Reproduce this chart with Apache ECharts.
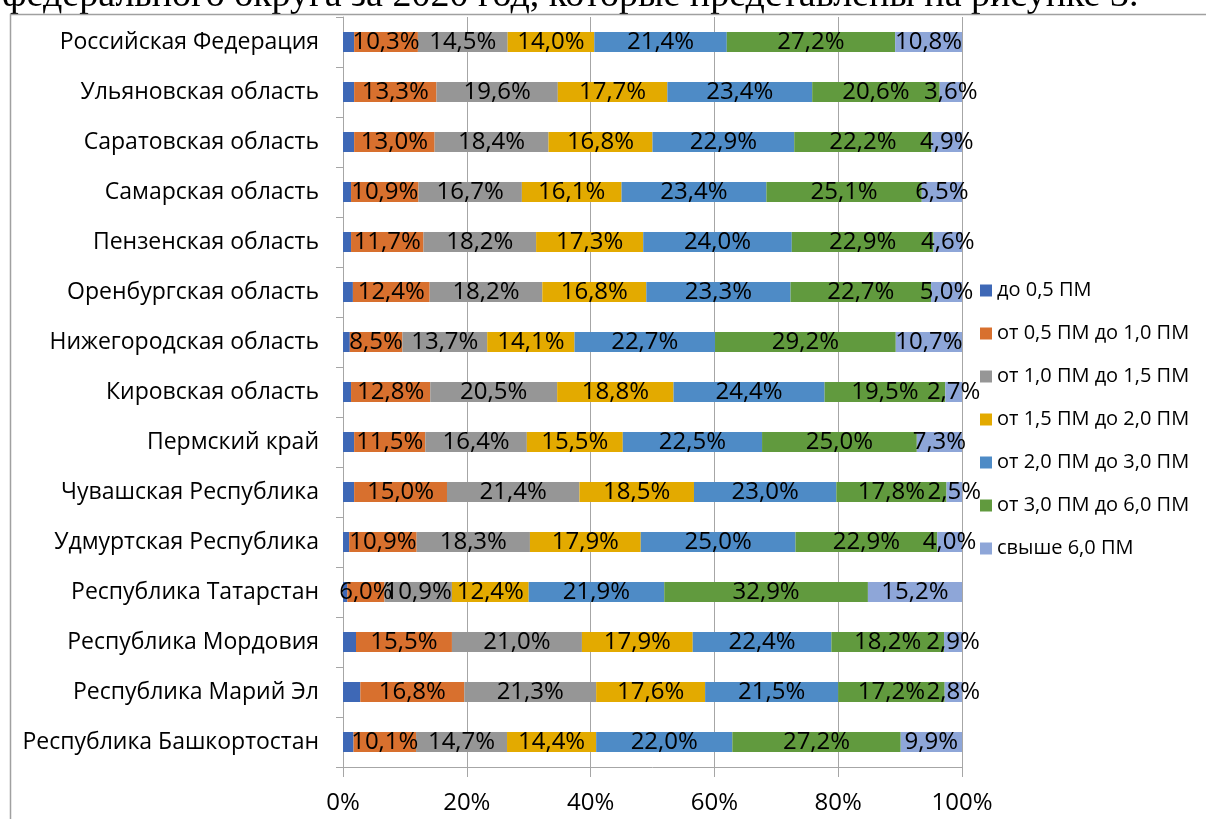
<!DOCTYPE html>
<html lang="ru">
<head>
    <meta charset="UTF-8">
    <title>Распределение населения по уровню дохода</title>
    <script src="https://cdn.jsdelivr.net/npm/echarts@6/dist/echarts.min.js"></script>
</head>
<body style="margin: 0; background: #fff;">
<div id="container" style="width: 1206px; height: 819px;"></div>
<script type="text/javascript">
    // регионы сверху вниз
    let regions = ['Российская Федерация', 'Ульяновская область', 'Саратовская область', 'Самарская область',
        'Пензенская область', 'Оренбургская область', 'Нижегородская область', 'Кировская область',
        'Пермский край', 'Чувашская Республика', 'Удмуртская Республика', 'Республика Татарстан',
        'Республика Мордовия', 'Республика Марий Эл', 'Республика Башкортостан'];

    let seriesNames = ['до 0,5 ПМ', 'от 0,5 ПМ до 1,0 ПМ', 'от 1,0 ПМ до 1,5 ПМ', 'от 1,5 ПМ до 2,0 ПМ',
        'от 2,0 ПМ до 3,0 ПМ', 'от 3,0 ПМ до 6,0 ПМ', 'свыше 6,0 ПМ'];

    let upTo05 = [1.8, 1.8, 1.8, 1.3, 1.3, 1.6, 1.1, 1.3, 1.8, 1.8, 1.0, 0.7, 2.1, 2.8, 1.7];
    let from05to10 = [10.3, 13.3, 13.0, 10.9, 11.7, 12.4, 8.5, 12.8, 11.5, 15.0, 10.9, 6.0, 15.5, 16.8, 10.1];
    let from10to15 = [14.5, 19.6, 18.4, 16.7, 18.2, 18.2, 13.7, 20.5, 16.4, 21.4, 18.3, 10.9, 21.0, 21.3, 14.7];
    let from15to20 = [14.0, 17.7, 16.8, 16.1, 17.3, 16.8, 14.1, 18.8, 15.5, 18.5, 17.9, 12.4, 17.9, 17.6, 14.4];
    let from20to30 = [21.4, 23.4, 22.9, 23.4, 24.0, 23.3, 22.7, 24.4, 22.5, 23.0, 25.0, 21.9, 22.4, 21.5, 22.0];
    let from30to60 = [27.2, 20.6, 22.2, 25.1, 22.9, 22.7, 29.2, 19.5, 25.0, 17.8, 22.9, 32.9, 18.2, 17.2, 27.2];
    let over60 = [10.8, 3.6, 4.9, 6.5, 4.6, 5.0, 10.7, 2.7, 7.3, 2.5, 4.0, 15.2, 2.9, 2.8, 9.9];

    let xTicks = [0, 20, 40, 60, 80, 100];

    let colors = ['#3E68B6', '#D8702E', '#969696', '#E3AA00', '#4E8BC6', '#619A3E', '#8EA6D8'];
    let values = [upTo05, from05to10, from10to15, from15to20, from20to30, from30to60, over60];

    let dom = document.getElementById('container');
    let myChart = echarts.init(dom);

    let series = seriesNames.map(function (name, i) {
        return {
            type: 'bar',
            name: name,
            stack: 'total',
            data: values[i],
            barWidth: 20,
            itemStyle: {color: colors[i]},
            label: {
                show: i > 0,
                position: 'inside',
                color: '#000',
                fontSize: 24,
                fontFamily: 'Open Sans',
                formatter: function (p) {
                    return p.value.toFixed(1).replace('.', ',') + '%';
                }
            }
        };
    });

    let option = {
        animation: false,
        textStyle: {fontFamily: 'Open Sans'},
        grid: {left: 343, right: 244, top: 17, bottom: 52, containLabel: false},
        legend: {
            orient: 'vertical',
            left: 975,
            top: 275,
            itemWidth: 12,
            itemHeight: 12,
            itemGap: 22,
            icon: 'rect',
            textStyle: {fontSize: 20, lineHeight: 21, color: '#000', fontFamily: 'Open Sans'},
            data: seriesNames
        },
        xAxis: {
            type: 'value',
            min: xTicks[0],
            max: xTicks[xTicks.length - 1],
            interval: 20,
            axisLine: {show: true, lineStyle: {color: '#a6a6a6'}},
            axisTick: {show: true, length: 10, lineStyle: {color: '#a6a6a6'}},
            splitLine: {show: true, lineStyle: {color: '#a6a6a6'}},
            axisLabel: {
                fontSize: 24, color: '#000', margin: 24,
                formatter: function (v) { return v + '%'; }
            }
        },
        yAxis: {
            type: 'category',
            inverse: true,
            data: regions,
            axisLine: {show: true, lineStyle: {color: '#a6a6a6'}},
            axisTick: {show: true, length: 7, lineStyle: {color: '#a6a6a6'}},
            axisLabel: {fontSize: 23, color: '#000', margin: 24}
        },
        graphic: [
            {
                type: 'text',
                left: 2,
                top: -23,
                style: {
                    text: 'федерального округа за 2020 год, которые представлены на рисунке 3.',
                    font: '38px "Liberation Serif"',
                    fill: '#000'
                }
            },
            {
                type: 'polyline',
                shape: {points: [[10.5, 819], [10.5, 14.5], [1206, 14.5]]},
                style: {stroke: '#a0a0a0', lineWidth: 1.5, fill: null}
            }
        ],
        series: series
    };
    myChart.setOption(option, true);
</script>
</body>
</html>
